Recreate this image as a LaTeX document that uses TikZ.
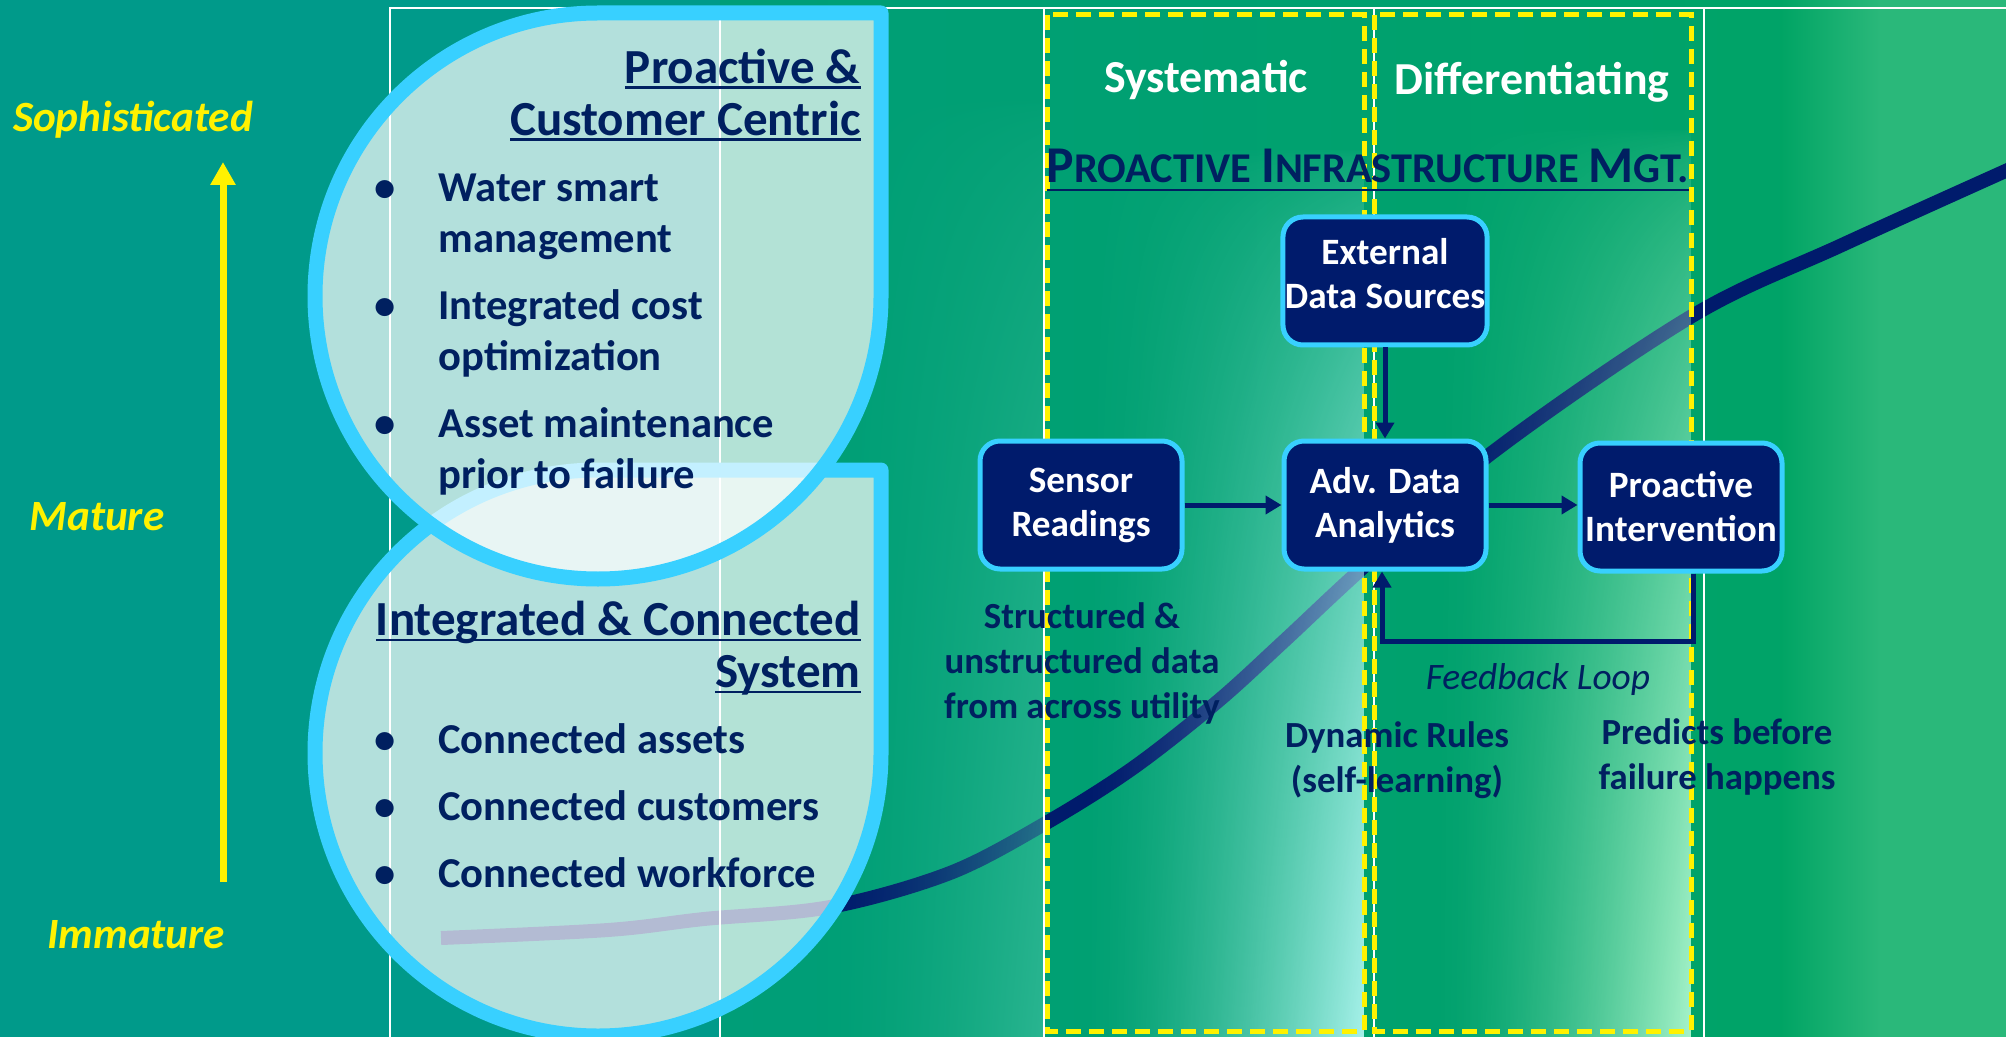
\documentclass[tikz,border=0pt]{standalone}
\usepackage{fontspec}
\setmainfont{Carlito}
\usepackage{xcolor}
\usepackage{tikz}
\usetikzlibrary{arrows.meta,fadings}

\definecolor{tealbg}{RGB}{0,154,138}
\definecolor{greenteal}{RGB}{0,158,120}
\definecolor{greenbg}{RGB}{0,164,100}
\definecolor{greenlt}{RGB}{42,184,122}
\definecolor{navytxt}{RGB}{0,32,96}
\definecolor{navybox}{RGB}{0,27,108}
\definecolor{cyanedge}{RGB}{56,208,255}
\definecolor{glowcyan}{RGB}{185,250,248}
\definecolor{glowmint}{RGB}{185,252,212}
\definecolor{glowteal}{RGB}{70,196,165}

% glow: opaque at the lower right, clear at the top and on the left
\pgfdeclarefunctionalshading{glowshading}{\pgfpoint{-50bp}{-50bp}}{\pgfpoint{50bp}{50bp}}{}{
	25 exch sub 50 div dup 0 lt {pop 0} if dup 1 gt {pop 1} if 0.6 exp
	exch 25 add 50 div dup 0 lt {pop 0} if dup 1 gt {pop 1} if
	1.6 exp mul dup dup
}
\pgfdeclarefading{glowfade}{\pgfuseshading{glowshading}}

\newcommand{\ulinetext}[2][-3pt]{\setbox0\hbox{#2}\rlap{\rule[#1]{\wd0}{1.4pt}}\box0}
\newcommand{\scword}[2]{{\fontsize{25.8}{30}\selectfont #1}#2}
\newcommand{\dropshape}[3]{(#1+#3,#2) arc[start angle=0,end angle=270,radius=#3] -- (#1+#3,#2-#3) -- cycle}

\begin{document}
\begin{tikzpicture}[x=0.5pt,y=-0.5pt,
	gridline/.style={draw=white,line width=0.75pt},
	bubble/.style={fill=white,fill opacity=0.7,draw=cyanedge,line width=7.5pt,line join=round},
	stagebox/.style={draw=yellow,line width=2.5pt,dash pattern=on 7.5pt off 4pt},
	levellabel/.style={text=yellow,font=\fontsize{21.6}{25}\selectfont\bfseries\itshape},
	bubblehead/.style={text=navytxt,font=\fontsize{24.5}{26}\selectfont\bfseries,align=right,inner sep=0pt,anchor=east},
	bubblelist/.style={text=navytxt,font=\fontsize{21.3}{25.5}\selectfont\bfseries,inner sep=0pt,anchor=north west},
	stagelabel/.style={text=white,font=\fontsize{22.9}{26}\selectfont\bfseries},
	procbox/.style={rounded corners=10pt,fill=navybox,draw=cyanedge,line width=2.5pt,text=white,
		font=\fontsize{18.6}{22}\selectfont\bfseries,align=center,minimum width=101pt,minimum height=64pt,inner sep=1pt},
	flowarrow/.style={draw=navybox,line width=2.5pt,-{Triangle[length=8pt,width=9pt]}},
	notetext/.style={text=navytxt,font=\fontsize{18.4}{22.5}\selectfont\bfseries,align=center}]
	\useasboundingbox (0,0) rectangle (2006,1037);
	\clip (0,0) rectangle (2006,1037);
	
	% background
	\fill[tealbg] (0,0) rectangle (720,1037);
	\fill[left color=greenteal,right color=greenbg] (720,0) rectangle (2006,1037);
	\fill[left color=greenbg,right color=greenlt] (1780,0) rectangle (1880,1037);
	\fill[greenlt] (1880,0) rectangle (2006,1037);
	
	% maturity curve
	\draw[navybox,line width=7pt] plot[smooth,tension=0.55] coordinates {(441,938) (608,930) (704,919) (830,907) (950,873) (1046,823) (1133,768) (1217,702) (1283,642) (1358,572) (1489,455) (1692,316) (1842,245) (2030,160)};
	
	% light columns
	\fill[glowteal,fill opacity=0.6,path fading=glowfade] (820,100) rectangle (1044,1037);
	\fill[glowcyan,fill opacity=0.9,path fading=glowfade] (1080,150) rectangle (1364,1037);
	\fill[glowmint,fill opacity=0.9,path fading=glowfade] (1430,130) rectangle (1691,1037);
	
	% grid
	\draw[gridline] (390,1037) -- (390,8) -- (2006,8);
	\foreach \x in {720,1044,1374,1704}
		\draw[gridline] (\x,8) -- (\x,1037);
	
	% bubbles
	\filldraw[bubble] \dropshape{598}{753}{283};
	\filldraw[bubble] \dropshape{598}{296}{283};
	
	% stages
	\draw[stagebox] (1047,15) rectangle (1364,1031);
	\draw[stagebox] (1374,15) rectangle (1691,1031);
	
	% maturity axis
	\node[levellabel] (sophisticated) at (133,120) {Sophisticated};
	\node[levellabel] (mature) at (97,517) {Mature};
	\node[levellabel] (immature) at (136,935) {Immature};
	\coordinate (axislow) at (223,882);
	\coordinate (axishigh) at (223,162);
	\draw[yellow,line width=3.5pt,-{Triangle[length=11.5pt,width=12pt]}] (axislow) -- (axishigh);
	
	% bubble texts
	\node[bubblehead] (prohead) at (861,95) {\ulinetext{Proactive \&}\\\ulinetext{Customer Centric}};
	\node[bubblelist] (prolist) at (374,165) {\begin{tabular}{@{}p{32pt}@{}l@{}}
		\textbullet & Water smart\\
		& management\\[8pt]
		\textbullet & Integrated cost\\
		& optimization\\[8pt]
		\textbullet & Asset maintenance\\
		& prior to failure
	\end{tabular}};
	\node[bubblehead] (conhead) at (861,648) {\ulinetext{Integrated \& Connected}\\\ulinetext{System}};
	\node[bubblelist] (conlist) at (374,717) {\begin{tabular}{@{}p{32pt}@{}l@{}}
		\textbullet & Connected assets\\[8pt]
		\textbullet & Connected customers\\[8pt]
		\textbullet & Connected workforce
	\end{tabular}};
	
	% stage titles
	\node[stagelabel] (systematic) at (1206,80) {Systematic};
	\node[stagelabel] (differentiating) at (1532,82) {Differentiating};
	\node[text=navytxt,font=\fontsize{21.2}{25}\selectfont\bfseries,anchor=base] (pimtitle) at (1368,183)
		{\ulinetext[-4.2pt]{\scword{P}{ROACTIVE} \scword{I}{NFRASTRUCTURE} \scword{M}{GT.}}};
	
	% flow
	\node[procbox] (ext) at (1385,281) {External\\Data Sources\\[-14pt]\mbox{}};
	\node[procbox] (sensor) at (1081,505) {Sensor\\Readings};
	\node[procbox] (adv) at (1385,505) {Adv. Data\\Analytics};
	\node[procbox] (pro) at (1681,507) {Proactive\\Intervention};
	\draw[flowarrow] (sensor.east) -- (adv.west);
	\draw[flowarrow] (adv.east) -- (adv.east -| pro.west);
	\draw[flowarrow] (ext.south) -- (adv.north);
	\draw[flowarrow] ([xshift=6pt]pro.south) -- ++(0,68) -| ([xshift=-1.5pt]adv.south);
	\node[text=navytxt,font=\fontsize{18.7}{22}\selectfont\itshape] (fbloop) at (1538,680) {Feedback Loop};
	
	\node[notetext] (sensornote) at (1082,663) {Structured \&\\unstructured data\\from across utility};
	\node[notetext] (advnote) at (1397,760) {Dynamic Rules\\(self-learning)};
	\node[notetext] (pronote) at (1717,757) {Predicts before\\failure happens};
\end{tikzpicture}
\end{document}
